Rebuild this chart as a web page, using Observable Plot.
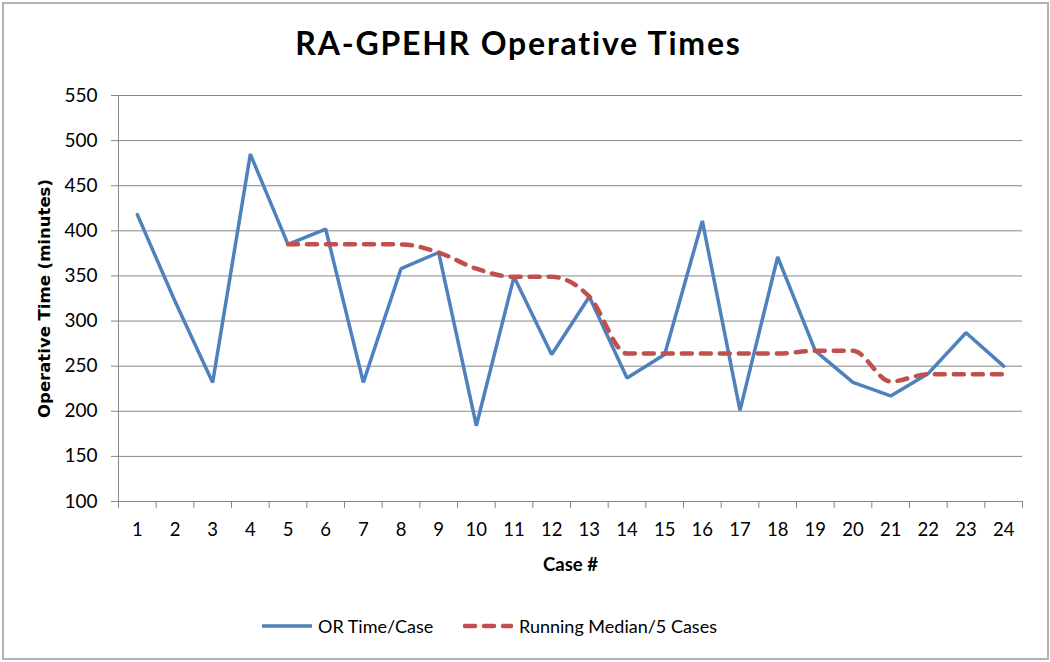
<!DOCTYPE html>
<html>
<head>
<meta charset="utf-8">
<script src="https://cdn.jsdelivr.net/npm/d3@7"></script>
<script src="https://cdn.jsdelivr.net/npm/@observablehq/plot@0.6"></script>
<style>
  html, body { margin: 0; padding: 0; background: #fff; }
  #chart { position: relative; width: 1050px; height: 662px; overflow: hidden; background: #fff; }
  #frame { position: absolute; left: 2px; top: 2px; width: 1043px; height: 654px; border: 2px solid #b3b3b3; }
  #title { position: absolute; left: 0; top: 27px; width: 1037px; text-align: center; font-family: Lato, sans-serif; font-weight: bold; font-size: 32px; line-height: 32px; letter-spacing: 1.8px; color: #000; }
  #plot { position: absolute; left: 0; top: 0; }
  #legend { position: absolute; top: 614px; left: 0; width: 1050px; height: 24px; font-family: Lato, sans-serif; font-size: 18px; color: #000; }
  .item { position: absolute; top: 0; height: 24px; display: flex; align-items: center; }
  .item svg { margin-right: 6px; }
</style>
</head>
<body>
<div id="chart">
  <div id="frame"></div>
  <div id="plot"></div>
  <div id="title"></div>
  <div id="legend"></div>
</div>
<script>
// ---- data ----
const chartTitle = "RA-GPEHR Operative Times";
const yTitle = "Operative Time (minutes)";
const xTitle = "Case #";
const seriesNames = ["OR Time/Case", "Running Median/5 Cases"];
const cases = [1, 2, 3, 4, 5, 6, 7, 8, 9, 10, 11, 12, 13, 14, 15, 16, 17, 18, 19, 20, 21, 22, 23, 24];
const orTime = [418, 322, 232, 485, 385, 402, 232, 358, 376, 184, 349, 263, 327, 237, 263, 411, 201, 371, 267, 232, 217, 242, 287, 250];
const medianCases = [5, 6, 7, 8, 9, 10, 11, 12, 13, 14, 15, 16, 17, 18, 19, 20, 21, 22, 23, 24];
const runningMedian = [385, 385, 385, 385, 376, 358, 349, 349, 327, 264, 264, 264, 264, 264, 267, 267, 233, 241, 241, 241];
const yTicks = [100, 150, 200, 250, 300, 350, 400, 450, 500, 550];

// ---- style ----
const blue = "#4F81BD";
const red = "#C0504D";
const gridColor = "#868686";

const orData = cases.map((c, i) => ({c, v: orTime[i]}));
const medData = medianCases.map((c, i) => ({c, v: runningMedian[i]}));
const boundaries = [cases[0] - 0.5, ...cases.map(c => c + 0.5)];

const plot = Plot.plot({
  width: 1050,
  height: 590,
  marginLeft: 118,
  marginRight: 28,
  marginTop: 95,
  marginBottom: 89,
  style: {fontFamily: "Lato, sans-serif", fontSize: "18px", color: "#000", background: "transparent"},
  x: {domain: [boundaries[0], boundaries[boundaries.length - 1]], label: null},
  y: {domain: [yTicks[0], yTicks[yTicks.length - 1]], label: null},
  marks: [
    Plot.gridY(yTicks, {stroke: gridColor, strokeOpacity: 1, strokeWidth: 1}),
    Plot.ruleX([boundaries[0]], {stroke: gridColor, strokeWidth: 1}),
    Plot.ruleY([yTicks[0]], {stroke: gridColor, strokeWidth: 1}),
    Plot.axisY(yTicks, {tickSize: 7, tickPadding: 14, stroke: gridColor, fill: "#000", label: null, fontSize: 19}),
    Plot.axisX(boundaries, {tickSize: 7, tickFormat: () => "", stroke: gridColor, label: null}),
    Plot.axisX(cases, {tickSize: 0, tickPadding: 21, tickFormat: d => String(d), fill: "#000", label: null, fontSize: 18.5}),
    Plot.text([yTitle], {text: d => d, frameAnchor: "left", dx: -74, rotate: -90, textAnchor: "middle", lineAnchor: "middle", fontFamily: "DejaVu Sans", fontWeight: "bold", fontSize: 16.5, fill: "#000"}),
    Plot.text([xTitle], {text: d => d, frameAnchor: "bottom", dy: 64, textAnchor: "middle", lineAnchor: "middle", fontFamily: "Lato", fontWeight: "bold", fontSize: 18.5, fill: "#000"}),
    Plot.line(orData, {x: "c", y: "v", stroke: blue, strokeWidth: 3.5, strokeLinejoin: "miter"}),
    Plot.line(medData, {x: "c", y: "v", stroke: red, strokeWidth: 4.5, strokeDasharray: "10,9", strokeLinecap: "round", curve: "monotone-x"})
  ]
});
document.getElementById("plot").appendChild(plot);
document.getElementById("title").textContent = chartTitle;

// legend
const legend = document.getElementById("legend");
const items = [
  {name: seriesNames[0], color: blue, dash: null, left: 262},
  {name: seriesNames[1], color: red, dash: "10,9", left: 463}
];
for (const it of items) {
  const div = document.createElement("div");
  div.className = "item";
  div.style.left = it.left + "px";
  const s = d3.create("svg").attr("width", 50).attr("height", 24);
  s.append("line").attr("x1", it.dash ? 2 : 0).attr("x2", it.dash ? 48 : 50).attr("y1", 12).attr("y2", 12)
    .attr("stroke", it.color).attr("stroke-width", it.dash ? 4.5 : 3.5)
    .attr("stroke-dasharray", it.dash).attr("stroke-linecap", it.dash ? "round" : "butt");
  div.appendChild(s.node());
  const t = document.createElement("span");
  t.textContent = it.name;
  div.appendChild(t);
  legend.appendChild(div);
}
</script>
</body>
</html>
